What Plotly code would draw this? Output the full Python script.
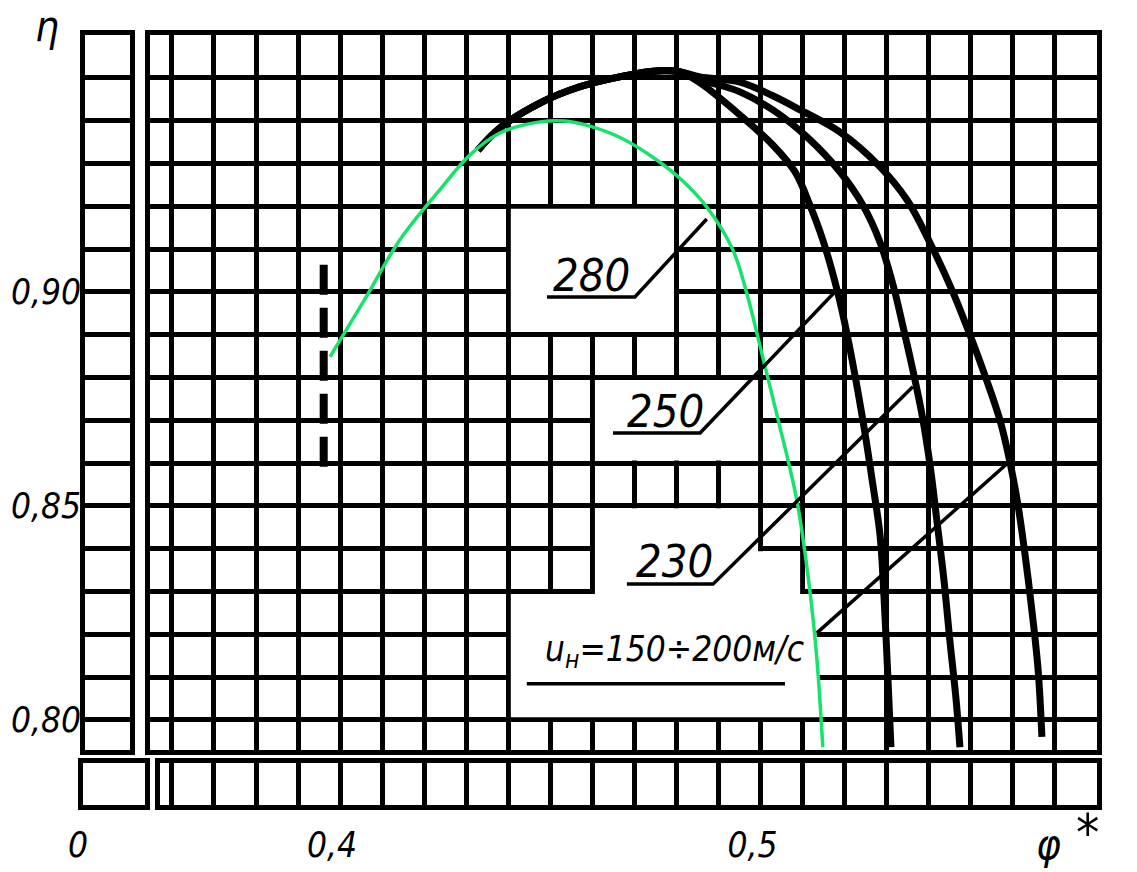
import plotly.graph_objects as go

# ---------------- data ----------------
# u_H = 280 m/s (green curve)
phi_280 = [0.3976, 0.4059, 0.4142, 0.4237, 0.4309, 0.4380, 0.4475, 0.4535, 0.4594, 0.4673,
           0.4753, 0.4815, 0.4872, 0.4934, 0.4967, 0.4998, 0.5039, 0.5086, 0.5117, 0.5134,
           0.5148]
eta_280 = [0.8848, 0.8983, 0.9121, 0.9238, 0.9320, 0.9371, 0.9397, 0.9399, 0.9387, 0.9357,
           0.9308, 0.9259, 0.9198, 0.9098, 0.8997, 0.8876, 0.8712, 0.8514, 0.8303, 0.8140,
           0.7936]

# u_H = 250 m/s
phi_250 = [0.4328, 0.4380, 0.4475, 0.4570, 0.4673, 0.4753, 0.4808, 0.4856, 0.4951, 0.5029,
           0.5082, 0.5117, 0.5148, 0.5182, 0.5205, 0.5243, 0.5267, 0.5284, 0.5293, 0.5303,
           0.5310]
eta_250 = [0.9331, 0.9383, 0.9441, 0.9479, 0.9504, 0.9516, 0.9514, 0.9488, 0.9413, 0.9343,
           0.9280, 0.9203, 0.9121, 0.9004, 0.8904, 0.8701, 0.8549, 0.8432, 0.8296, 0.8093,
           0.7936]

# u_H = 230 m/s
phi_230 = [0.4328, 0.4380, 0.4475, 0.4570, 0.4673, 0.4753, 0.4808, 0.4856, 0.4910, 0.4951,
           0.5029, 0.5110, 0.5189, 0.5243, 0.5284, 0.5315, 0.5338, 0.5362, 0.5384, 0.5403,
           0.5419, 0.5436, 0.5450, 0.5465, 0.5474]
eta_230 = [0.9331, 0.9383, 0.9441, 0.9479, 0.9504, 0.9516, 0.9514, 0.9495, 0.9481, 0.9467,
           0.9425, 0.9362, 0.9280, 0.9203, 0.9116, 0.9016, 0.8922, 0.8817, 0.8712, 0.8595,
           0.8467, 0.8327, 0.8186, 0.8046, 0.7936]

# u_H = 150...200 m/s
phi_150 = [0.4328, 0.4380, 0.4475, 0.4570, 0.4673, 0.4753, 0.4808, 0.4856, 0.4951, 0.5029,
           0.5094, 0.5189, 0.5284, 0.5348, 0.5403, 0.5457, 0.5498, 0.5533, 0.5569, 0.5593,
           0.5612, 0.5629, 0.5645, 0.5660, 0.5669]
eta_150 = [0.9331, 0.9383, 0.9441, 0.9479, 0.9504, 0.9516, 0.9514, 0.9502, 0.9490, 0.9458,
           0.9425, 0.9373, 0.9292, 0.9215, 0.9114, 0.9000, 0.8899, 0.8806, 0.8701, 0.8602,
           0.8502, 0.8385, 0.8257, 0.8116, 0.7960]

# dashed vertical marker at the start of the curves
phi_mark = [0.3961, 0.3961]
eta_mark = [0.8591, 0.9086]

# axis ticks
y_tickvals = [0.80, 0.85, 0.90]
x_tickvals = [0.4, 0.5]
corner_tickvals = [0]
corner_ticktext = ["0"]

# curve labels
label_texts = ["280", "250", "230", "u<sub>н</sub>=150÷200м/с"]

# ---------------- layout helpers ----------------
W, H = 1137, 872
PXX = 4205.0   # pixels per unit of phi
PXY = 4280.0   # pixels per unit of eta
FONT = "Liberation Sans Narrow, DejaVu Sans Condensed, Arial Narrow, sans-serif"
GW = 4.5       # grid line width
LW = 5         # frame line width
BLACK = "black"
GREEN = "#17e36c"


def dx(p0, p1):
    return [p0 / W, p1 / W]


def dy(top, bottom):
    return [1 - bottom / H, 1 - top / H]


X_MAX = 0.58
Y_MAX = 0.96
main_x_range = [X_MAX - (1097 - 150) / PXX, X_MAX]
main_y_range = [Y_MAX - (750 - 35) / PXY, Y_MAX]

fig = go.Figure()

# empty traces so every panel of the broken axes exists
for xa, ya in [("x2", "y2"), ("x3", "y3"), ("x4", "y4")]:
    fig.add_trace(go.Scatter(x=[], y=[], xaxis=xa, yaxis=ya, showlegend=False, hoverinfo="skip"))

fig.add_trace(go.Scatter(x=phi_mark, y=eta_mark, mode="lines",
                         line=dict(color=BLACK, width=8, dash="30px,13px"),
                         showlegend=False, hoverinfo="skip"))

for xs, ys, name in [(phi_250, eta_250, "250"), (phi_230, eta_230, "230"),
                     (phi_150, eta_150, "150÷200")]:
    fig.add_trace(go.Scatter(x=xs, y=ys, mode="lines", name=name,
                             line=dict(color=BLACK, width=7, shape="spline", smoothing=1.0),
                             showlegend=False))

fig.add_trace(go.Scatter(x=phi_280, y=eta_280, mode="lines", name="280",
                         line=dict(color=GREEN, width=3.5, shape="spline", smoothing=1.0),
                         showlegend=False))

tickfont = dict(family=FONT, size=35, color=BLACK, style="italic")
grid = dict(showgrid=True, gridcolor=BLACK, gridwidth=GW)
frame = dict(showline=True, linecolor=BLACK, linewidth=LW, mirror=True, zeroline=False,
             automargin=False)
minor_grid = dict(tickmode="linear", tick0=0, dtick=0.01, showgrid=True,
                  gridcolor=BLACK, gridwidth=GW, ticks="")

fig.update_layout(
    width=W, height=H,
    margin=dict(l=0, r=0, t=0, b=0, autoexpand=False),
    paper_bgcolor="white", plot_bgcolor="white",
    separators=", ",
    showlegend=False,
    xaxis=dict(domain=dx(150, 1097), range=main_x_range, anchor="y",
               tickmode="linear", tick0=0, dtick=0.01, showticklabels=False, ticks="",
               **grid, **frame),
    yaxis=dict(domain=dy(35, 750), range=main_y_range, anchor="x",
               tickmode="linear", tick0=0, dtick=0.01, showticklabels=False, ticks="",
               **grid, **frame),
    # left strip (phi near 0)
    xaxis2=dict(domain=dx(85, 130), range=[0, 0.01], anchor="y2",
                showgrid=False, showticklabels=False, ticks="", **frame),
    yaxis2=dict(domain=dy(35, 750), range=main_y_range, anchor="x2",
                tickmode="array", tickvals=y_tickvals, tickformat=".2f",
                ticks="", ticklen=0, ticklabelstandoff=-8, tickfont=tickfont,
                minor=minor_grid, **grid, **frame),
    # bottom strip (eta near 0)
    xaxis3=dict(domain=dx(160, 1097), range=[X_MAX - (1097 - 160) / PXX, X_MAX], anchor="y3",
                tickmode="array", tickvals=x_tickvals, tickformat=".1f",
                ticks="", ticklabelstandoff=5, ticklabelshift=-8, tickfont=tickfont,
                minor=minor_grid, **grid, **frame),
    yaxis3=dict(domain=dy(763, 805), range=[0, 0.01], anchor="x3",
                showgrid=False, showticklabels=False, ticks="", **frame),
    # corner box
    xaxis4=dict(domain=dx(83, 145), range=[0, (145 - 83) / PXX], anchor="y4",
                tickmode="array", tickvals=corner_tickvals, ticktext=corner_ticktext,
                ticks="", ticklabelstandoff=5, ticklabelshift=-5, tickfont=tickfont,
                showgrid=False, **frame),
    yaxis4=dict(domain=dy(763, 805), range=[0, 0.01], anchor="x4",
                showgrid=False, showticklabels=False, ticks="", **frame),
)

# white label fields (grid removed behind the labels)
s = 0.0006
white = dict(fillcolor="white", line=dict(width=0), layer="between", xref="x", yref="y")
fig.add_shape(type="rect", x0=0.44 + s, x1=0.48 - s, y0=0.89 + s, y1=0.92 - s, **white)
fig.add_shape(type="rect", x0=0.46 + s, x1=0.50 - s, y0=0.86 + s, y1=0.88 - s, **white)
pts = [(0.46 + s, 0.85 - s), (0.50 - s, 0.85 - s), (0.50 - s, 0.84 - s), (0.51 - s, 0.84 - s),
       (0.51 - s, 0.83 - s), (0.5127, 0.83 - s), (0.5146, 0.80 + s), (0.44 + s, 0.80 + s),
       (0.44 + s, 0.83 - s), (0.46 + s, 0.83 - s)]
fig.add_shape(type="path", path="M " + " L ".join(f"{a},{b}" for a, b in pts) + " Z", **white)

# leader lines
lead = dict(xref="x", yref="y", layer="above", line=dict(color=BLACK, width=3.5))
leaders = [
    [(0.4492, 0.8988), (0.4701, 0.8988), (0.4872, 0.9170)],   # 280
    [(0.4649, 0.8670), (0.4856, 0.8670), (0.5177, 0.9000)],   # 250
    [(0.4682, 0.8317), (0.4887, 0.8317), (0.5362, 0.8778)],   # 230
    [(0.4444, 0.8084), (0.5058, 0.8084)],                     # u_H underline
    [(0.5134, 0.8203), (0.5588, 0.8600)],                     # u_H leader
]
for ln in leaders:
    fig.add_shape(type="path", path="M " + " L ".join(f"{a},{b}" for a, b in ln), **lead)

# curve labels
label_pos = [(0.4599, 0.9039, 45), (0.4775, 0.8721, 45), (0.4796, 0.8371, 45),
             (0.4796, 0.8160, 35)]
for txt, (px, py, fs) in zip(label_texts, label_pos):
    fig.add_annotation(x=px, y=py, xref="x", yref="y", text=txt, showarrow=False,
                       font=dict(family=FONT, size=fs, color=BLACK, style="italic"))

# axis symbols
sym = dict(xref="paper", yref="paper", showarrow=False, xanchor="center", yanchor="middle")
fig.add_annotation(x=47 / W, y=1 - 27 / H, text="η",
                   font=dict(family=FONT, size=42, color=BLACK, style="italic"), **sym)
fig.add_annotation(x=1048 / W, y=1 - 844 / H, text="φ",
                   font=dict(family=FONT, size=42, color=BLACK, style="italic"), **sym)
fig.add_annotation(x=1087 / W, y=1 - 833 / H, text="*",
                   font=dict(family=FONT, size=52, color=BLACK), **sym)

fig.write_html("out.html", config={"displayModeBar": False},
               post_script="document.body.style.margin='0px';")
